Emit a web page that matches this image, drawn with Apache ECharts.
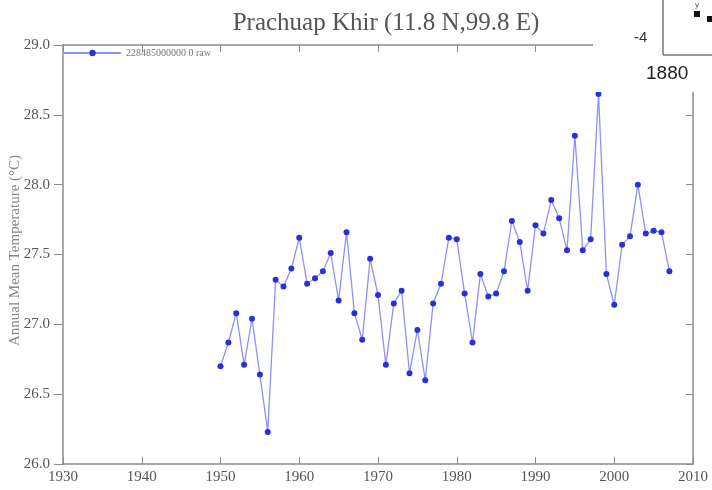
<!DOCTYPE html>
<html>
<head>
<meta charset="utf-8">
<script src="https://cdn.jsdelivr.net/npm/echarts@6/dist/echarts.min.js"></script>
<style>
  html, body { margin: 0; padding: 0; background: #fff; }
  #chart { width: 712px; height: 490px; }
</style>
</head>
<body>
<div id="chart"></div>
<script>
// station series
const years = [1950, 1951, 1952, 1953, 1954, 1955, 1956, 1957, 1958, 1959,
  1960, 1961, 1962, 1963, 1964, 1965, 1966, 1967, 1968, 1969,
  1970, 1971, 1972, 1973, 1974, 1975, 1976, 1977, 1978, 1979,
  1980, 1981, 1982, 1983, 1984, 1985, 1986, 1987, 1988, 1989,
  1990, 1991, 1992, 1993, 1994, 1995, 1996, 1997, 1998, 1999,
  2000, 2001, 2002, 2003, 2004, 2005, 2006, 2007]
const temps = [26.70, 26.87, 27.08, 26.71, 27.04, 26.64, 26.23, 27.32, 27.27, 27.40,
  27.62, 27.29, 27.33, 27.38, 27.51, 27.17, 27.66, 27.08, 26.89, 27.47,
  27.21, 26.71, 27.15, 27.24, 26.65, 26.96, 26.60, 27.15, 27.29, 27.62,
  27.61, 27.22, 26.87, 27.36, 27.20, 27.22, 27.38, 27.74, 27.59, 27.24,
  27.71, 27.65, 27.89, 27.76, 27.53, 28.35, 27.53, 27.61, 28.65, 27.36,
  27.14, 27.57, 27.63, 28.00, 27.65, 27.67, 27.66, 27.38]
const seriesName = '228485000000 0 raw'
const title = 'Prachuap Khir (11.8 N,99.8 E)'
const yName = 'Annual Mean Temperature (°C)'

const axisGray = '#8c8c8c'
const serif = '"Liberation Serif", "DejaVu Serif", serif'

let chart = echarts.init(document.getElementById('chart'))

const boxAxis = (tickInside) => ({
  axisLine: { show: true, lineStyle: { color: axisGray, width: 1.5 } },
  axisTick: { show: true, inside: tickInside, length: tickInside ? 7 : 9, lineStyle: { color: axisGray } },
  splitLine: { show: false }
})

chart.setOption({
  animation: false,
  title: {
    text: title,
    left: 381,
    top: 6,
    textAlign: 'center',
    textStyle: { fontFamily: serif, fontSize: 25, fontWeight: 'normal', color: '#555' }
  },
  legend: {
    left: 63,
    top: 48,
    padding: 0,
    itemWidth: 57,
    itemHeight: 8,
    itemGap: 6,
    textStyle: { fontFamily: serif, fontSize: 10, color: '#777' },
    data: [seriesName]
  },
  grid: { left: 63, right: 19, top: 45, bottom: 26, outerBoundsMode: 'none', containLabel: false },
  xAxis: [
    Object.assign({
      type: 'value', min: 1930, max: 2010, interval: 10,
      axisLabel: { fontFamily: serif, fontSize: 15, color: '#555', margin: 6,
        formatter: v => String(v) }
    }, boxAxis(true)),
    Object.assign({
      type: 'value', position: 'top', min: 1930, max: 2010, interval: 10,
      axisLabel: { show: false }
    }, boxAxis(true))
  ],
  yAxis: [
    Object.assign({
      type: 'value', min: 26, max: 29, interval: 0.5,
      name: yName, nameLocation: 'middle', nameGap: 40, nameMoveOverlap: false,
      nameTextStyle: { fontFamily: serif, fontSize: 15, color: '#888', padding: [0, 0, 0, 8] },
      axisLabel: { fontFamily: serif, fontSize: 15, color: '#555', margin: 13,
        formatter: v => v.toFixed(1) }
    }, boxAxis(false)),
    Object.assign({
      type: 'value', position: 'right', min: 26, max: 29, interval: 0.5,
      axisLabel: { show: false }
    }, boxAxis(true))
  ],
  series: [{
    name: seriesName,
    type: 'line',
    data: years.map((y, i) => [y, temps[i]]),
    symbol: 'circle',
    symbolSize: 6,
    lineStyle: { color: '#8f92f3', width: 1.3 },
    itemStyle: { color: '#2b2fd8' }
  }],
  graphic: [
    // corner of a neighbouring figure pasted over the top right
    { type: 'rect', shape: { x: 593, y: 0, width: 119, height: 92 }, style: { fill: '#fff' }, z: 100 },
    { type: 'line', shape: { x1: 663, y1: 0, x2: 663, y2: 55 }, style: { stroke: '#777', lineWidth: 1.5 }, z: 101 },
    { type: 'line', shape: { x1: 663, y1: 55, x2: 712, y2: 55 }, style: { stroke: '#777', lineWidth: 1.5 }, z: 101 },
    { type: 'text', x: 634, y: 30, style: { text: '-4', font: '15px "Liberation Sans", sans-serif', fill: '#333' }, z: 101 },
    { type: 'text', x: 646, y: 64, style: { text: '1880', font: '19px "Liberation Sans", sans-serif', fill: '#222' }, z: 101 },
    { type: 'rect', shape: { x: 694, y: 11, width: 6, height: 6 }, style: { fill: '#111' }, z: 101 },
    { type: 'rect', shape: { x: 707, y: 16, width: 5, height: 6 }, style: { fill: '#111' }, z: 101 },
    { type: 'text', x: 695, y: 1, style: { text: 'y', font: '8px sans-serif', fill: '#555' }, z: 101 }
  ]
})
</script>
</body>
</html>
